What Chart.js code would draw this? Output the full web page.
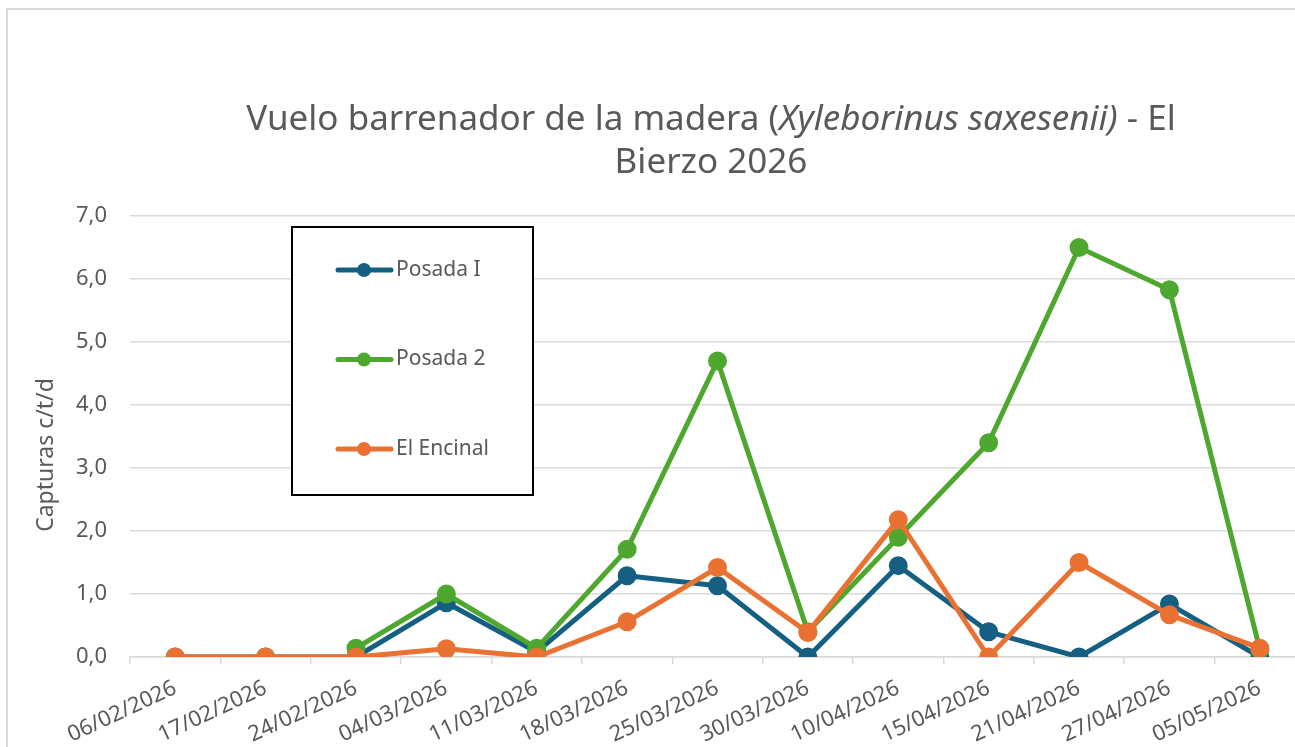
<!DOCTYPE html>
<html>
<head>
<meta charset="utf-8">
<script src="https://cdn.jsdelivr.net/npm/chart.js@4"></script>
<style>
  html, body { margin: 0; padding: 0; overflow: hidden; background: #fff; width: 1295px; height: 747px; }
  #frame { position: absolute; left: 6px; top: 8px; width: 1400px; height: 900px; border: 2px solid #d9d9d9; box-sizing: border-box; }
  #chart { position: absolute; left: 0; top: 0; }
  #title {
    position: absolute; left: 211px; top: 95px; width: 1000px;
    text-align: center; font-family: "Noto Sans", sans-serif; font-size: 35px; line-height: 43px; color: #595959;
  }
</style>
</head>
<body>
<div id="frame"></div>
<canvas id="chart" width="1317" height="747"></canvas>
<div id="title">Vuelo barrenador de la madera (<i>Xyleborinus saxesenii)</i> - El<br>Bierzo 2026</div>
<script>
// datos
const fechas = ['06/02/2026', '17/02/2026', '24/02/2026', '04/03/2026', '11/03/2026', '18/03/2026', '25/03/2026',
                '30/03/2026', '10/04/2026', '15/04/2026', '21/04/2026', '27/04/2026', '05/05/2026'];
const posada1 = [0, 0, 0, 0.86, 0.08, 1.29, 1.13, 0, 1.45, 0.40, 0, 0.84, 0];
const posada2 = [null, null, 0.14, 1.0, 0.14, 1.71, 4.70, 0.40, 1.90, 3.40, 6.50, 5.83, 0.12];
const encinal = [0, 0, 0, 0.13, 0, 0.56, 1.42, 0.39, 2.18, 0, 1.50, 0.67, 0.14];
const tituloY = 'Capturas c/t/d';

const FONT = '"Noto Sans", sans-serif';
const GRIS = '#595959';

// leyenda dentro de un recuadro, como en Excel, y título del eje Y
const boxLegend = {
  id: 'boxLegend',
  afterDraw(chart) {
    const ctx = chart.ctx;
    ctx.save();
    ctx.fillStyle = '#fff';
    ctx.fillRect(292, 227, 241, 268);
    ctx.strokeStyle = '#000';
    ctx.lineWidth = 2;
    ctx.strokeRect(292, 227, 241, 268);
    chart.data.datasets.forEach((ds, i) => {
      const y = 270 + i * 89.5;
      ctx.strokeStyle = ds.borderColor;
      ctx.lineWidth = 5;
      ctx.lineCap = 'round';
      ctx.beginPath();
      ctx.moveTo(338, y);
      ctx.lineTo(391, y);
      ctx.stroke();
      ctx.fillStyle = ds.borderColor;
      ctx.beginPath();
      ctx.arc(364, y, 7, 0, Math.PI * 2);
      ctx.fill();
      ctx.fillStyle = GRIS;
      ctx.font = '21px ' + FONT;
      ctx.textBaseline = 'middle';
      ctx.fillText(ds.label, 396, y);
    });

    // título del eje Y
    ctx.translate(46, 455);
    ctx.rotate(-Math.PI / 2);
    ctx.fillStyle = GRIS;
    ctx.font = '23px ' + FONT;
    ctx.textAlign = 'center';
    ctx.textBaseline = 'middle';
    ctx.fillText(tituloY, 0, 0);
    ctx.restore();
  }
};

function serie(label, data, color, order) {
  return {
    label: label,
    data: data,
    borderColor: color,
    backgroundColor: color,
    pointBackgroundColor: color,
    pointBorderColor: color,
    borderWidth: 5,
    pointRadius: 7,
    pointHoverRadius: 7,
    borderJoinStyle: 'round',
    tension: 0,
    spanGaps: false,
    order: order
  };
}

new Chart(document.getElementById('chart'), {
  type: 'line',
  data: {
    labels: fechas,
    datasets: [
      serie('Posada I', posada1, '#156082', 3),
      serie('Posada 2', posada2, '#4EA72E', 2),
      serie('El Encinal', encinal, '#E97132', 1)
    ]
  },
  options: {
    responsive: false,
    animation: false,
    layout: { padding: { top: 216, left: 0, right: 0, bottom: 0 } },
    plugins: {
      legend: { display: false },
      title: { display: false },
      tooltip: { enabled: false }
    },
    scales: {
      x: {
        offset: true,
        grid: { offset: true, drawOnChartArea: false, drawTicks: true, tickLength: 7, color: '#d9d9d9', lineWidth: 1.5 },
        border: { display: true, color: '#d9d9d9', width: 1.5 },
        ticks: { minRotation: 25, maxRotation: 25, color: GRIS, font: { family: FONT, size: 22 }, padding: 11, autoSkip: false },
        afterFit(s) { s.height = 90; }
      },
      y: {
        min: 0,
        max: 7,
        ticks: {
          stepSize: 1,
          color: GRIS,
          font: { family: FONT, size: 22 },
          padding: 23,
          callback: v => v.toFixed(1).replace('.', ',')
        },
        grid: { color: '#d9d9d9', lineWidth: 1.5, drawTicks: false },
        border: { display: false },
        afterFit(s) { s.width = 130; }
      }
    }
  },
  plugins: [boxLegend]
});
</script>
</body>
</html>
